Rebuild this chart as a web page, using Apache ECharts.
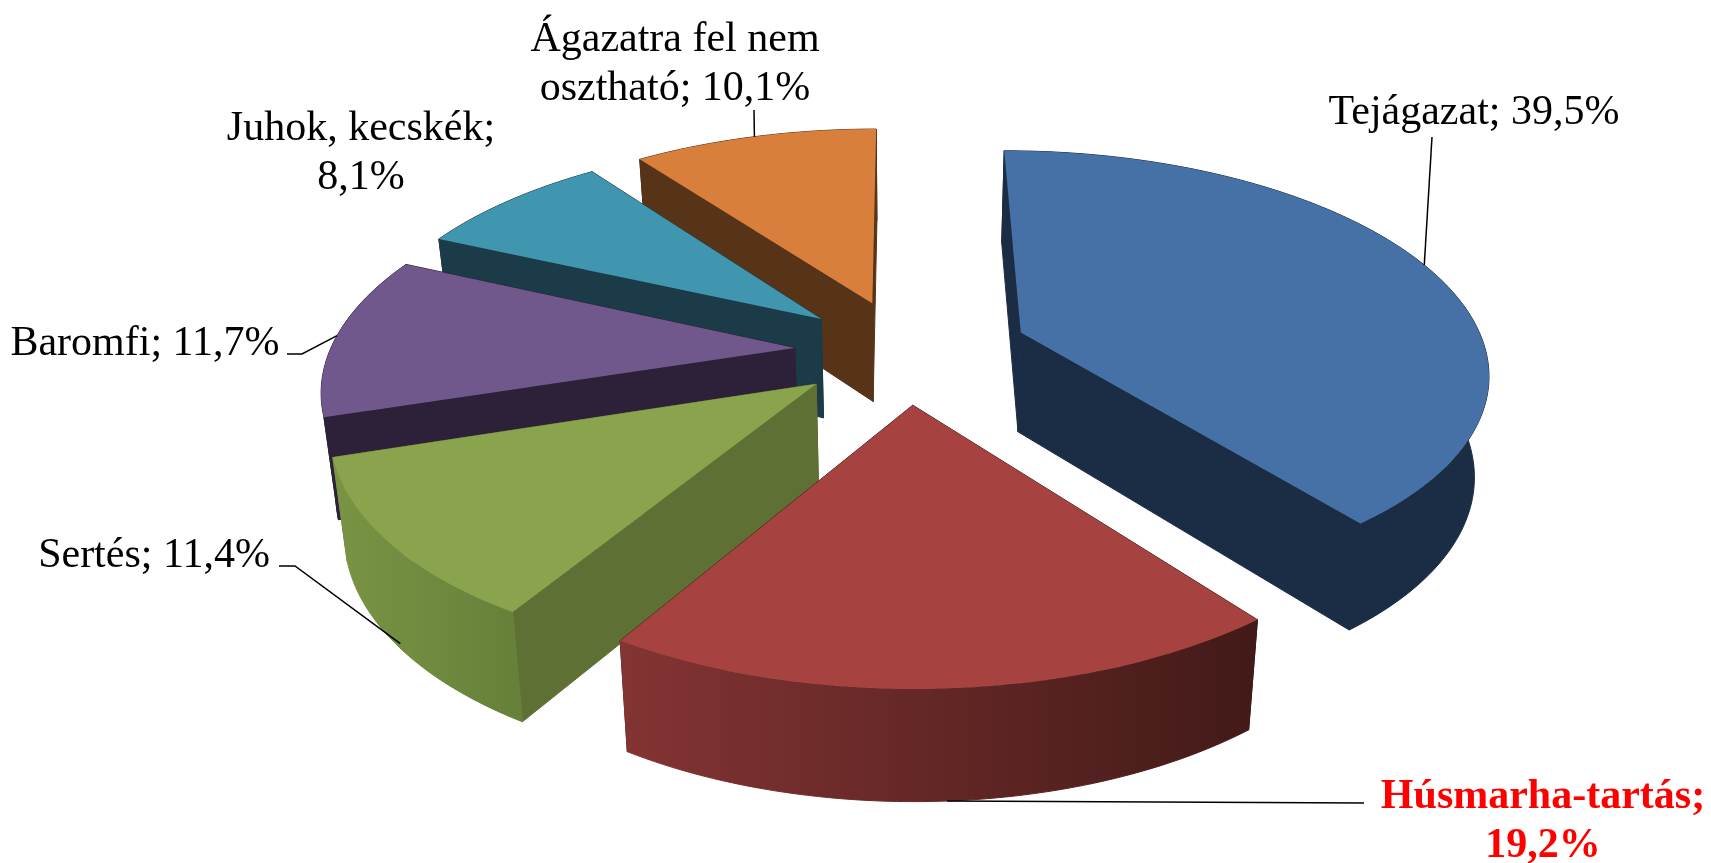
<!DOCTYPE html>
<html>
<head>
<meta charset="utf-8">
<title>Ágazatok</title>
<script src="https://cdn.jsdelivr.net/npm/echarts@6/dist/echarts.min.js"></script>
<style>
html, body { margin: 0; padding: 0; background: #fff; }
#main { width: 1711px; height: 863px; }
</style>
</head>
<body>
<div id="main"></div>
<script>
// adatok
var names = ['Tejágazat', 'Húsmarha-tartás', 'Sertés', 'Baromfi', 'Juhok, kecskék', 'Ágazatra fel nem\nosztható'];
var values = [39.5, 19.2, 11.4, 11.7, 8.1, 10.1];
var separators = ['; ', ';\n', '; ', '; ', ';\n', '; '];

// színek: felső lap, oldalfal, külső fal bal/jobb széle
var topColors = ['#4671a7', '#a64340', '#89a44c', '#71588c', '#4096ae', '#d8803b'];
var sideColors = ['#1b2d45', '#421a18', '#5e7033', '#2c2139', '#1a3b47', '#573318'];
var wallFrom = ['#1b2d45', '#833433', '#7a9444', '#2c2139', '#1a3b47', '#573318'];
var wallTo = ['#1b2d45', '#421a18', '#66803a', '#2c2139', '#1a3b47', '#573318'];

// feliratok helye
var labelX = [1474, 1543, 154, 145, 361, 675];
var labelY = [113, 822, 556, 344, 153, 64];
var labelFill = ['#000', '#ff0000', '#000', '#000', '#000', '#000'];
var labelWeight = ['normal', 'bold', 'normal', 'normal', 'normal', 'normal'];
// vezetővonal: [x, y] törésponttal, a vége a szelet peremén van
var leaderStart = [[[1432, 137]], [[1364, 803]], [[279, 566], [295, 566]], [[287, 354], [302, 354]], null, [[754, 110]]];
var leaderAt = [0.495, 0.5, 0.5, 0.5, 0.5, 0.5];
var leaderDepth = [0, 1, 0.95, 0, 0, 0];

// térbeli vetítés paraméterei
var CX = 906, CY = 351, R = 465, TILT = 0.467, PERSP = 0.164;
var EXPLODE = [0.265, 0.24, 0.24, 0.24, 0.24, 0.24];
var START_DEG = -0.1, HEIGHT = 100, BOTTOM_SHRINK = 0.975;

var total = values.reduce(function (a, b) { return a + b; }, 0);

function project(theta, r, mid, explode, depth) {
  var X = Math.sin(theta) * r + explode * Math.sin(mid);
  var Y = -Math.cos(theta) * r - explode * Math.cos(mid);
  var w = 1 / (1 - PERSP * Y);
  var s = 1 - (1 - BOTTOM_SHRINK) * depth;
  return [CX + R * X * w * s, CY + R * TILT * Y * w + depth * HEIGHT * (0.5 + 0.5 * w)];
}

function angles(index) {
  var before = 0;
  for (var i = 0; i < index; i++) before += values[i];
  var a0 = (START_DEG + before / total * 360) * Math.PI / 180;
  var a1 = a0 + values[index] / total * Math.PI * 2;
  return [a0, a1, (a0 + a1) / 2];
}

function arc(a0, a1, mid, explode, depth) {
  var pts = [], n = Math.max(8, Math.ceil((a1 - a0) / 0.02));
  for (var i = 0; i <= n; i++) {
    pts.push(project(a0 + (a1 - a0) * i / n, 1, mid, explode, depth));
  }
  return pts;
}

function renderSlice(params, api) {
  var i = api.value(0);
  var a = angles(i);
  var a0 = a[0], a1 = a[1], mid = a[2], ex = EXPLODE[i];
  var rimTop = arc(a0, a1, mid, ex, 0);
  var rimBottom = arc(a0, a1, mid, ex, 1);
  var apexTop = project(0, 0, mid, ex, 0);
  var apexBottom = project(0, 0, mid, ex, 1);
  var children = [];

  function poly(points, fill, stroke) {
    children.push({
      type: 'polygon',
      shape: { points: points },
      style: { fill: fill, stroke: stroke, lineWidth: 1 },
      silent: true
    });
  }

  var wall = rimTop.concat(rimBottom.slice().reverse());
  var wallFill = new echarts.graphic.LinearGradient(0, 0, 1, 0, [
    { offset: 0, color: wallFrom[i] }, { offset: 1, color: wallTo[i] }
  ]);
  poly([apexTop, rimTop[rimTop.length - 1], rimBottom[rimBottom.length - 1], apexBottom], sideColors[i], sideColors[i]);
  poly([apexTop, rimTop[0], rimBottom[0], apexBottom], sideColors[i], sideColors[i]);
  poly(wall, wallFill, wallFill);
  poly([apexTop].concat(rimTop), topColors[i], null);

  if (leaderStart[i]) {
    var end = project(a0 + (a1 - a0) * leaderAt[i], 1, mid, ex, leaderDepth[i]);
    children.push({
      type: 'polyline',
      shape: { points: leaderStart[i].concat([end]) },
      style: { stroke: '#000', lineWidth: 1.5, fill: null },
      silent: true
    });
  }
  children.push({
    type: 'text',
    silent: true,
    style: {
      x: labelX[i], y: labelY[i],
      text: names[i] + separators[i] + String(values[i]).replace('.', ',') + '%',
      fill: labelFill[i],
      font: labelWeight[i] + ' 42px "Liberation Serif"',
      align: 'center', verticalAlign: 'middle', lineHeight: 49
    }
  });
  return { type: 'group', children: children };
}

// hátulról előre rajzolva
var drawOrder = values.map(function (v, i) { return i; }).sort(function (p, q) {
  return -Math.cos(angles(p)[2]) + Math.cos(angles(q)[2]);
});

var chart = echarts.init(document.getElementById('main'));
chart.setOption({
  animation: false,
  backgroundColor: '#fff',
  series: [{
    type: 'custom',
    coordinateSystem: 'none',
    renderItem: renderSlice,
    data: drawOrder.map(function (i) { return [i, values[i]]; })
  }]
});
</script>
</body>
</html>
